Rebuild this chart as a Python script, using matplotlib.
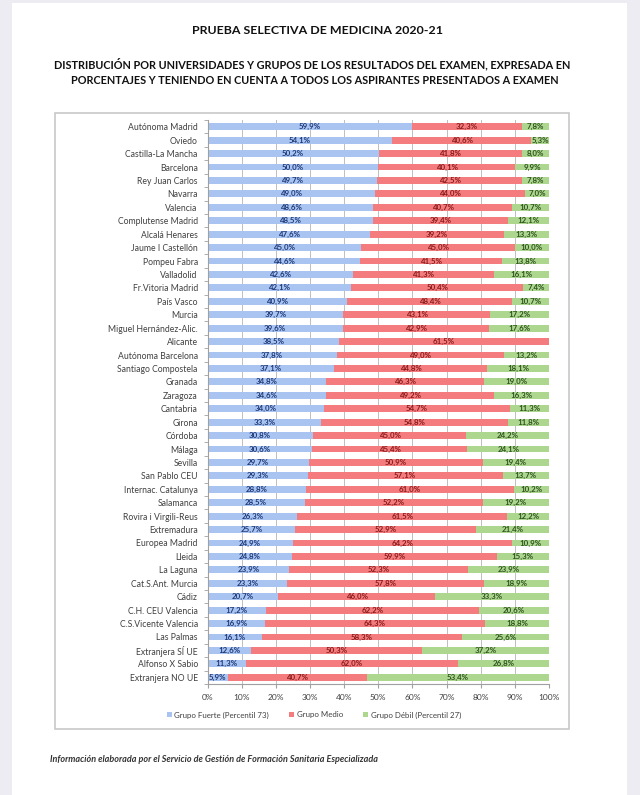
import matplotlib
matplotlib.use("Agg")
import matplotlib.pyplot as plt
from matplotlib.patches import Rectangle
import numpy as np

plt.rcParams['font.family'] = ['Lato', 'DejaVu Sans']

universidades = [
    'Autónoma Madrid', 'Oviedo', 'Castilla-La Mancha', 'Barcelona', 'Rey Juan Carlos',
    'Navarra', 'Valencia', 'Complutense Madrid', 'Alcalá Henares', 'Jaume I Castellón',
    'Pompeu Fabra', 'Valladolid', 'Fr.Vitoria Madrid', 'País Vasco', 'Murcia',
    'Miguel Hernández-Alic.', 'Alicante', 'Autónoma Barcelona', 'Santiago Compostela',
    'Granada', 'Zaragoza', 'Cantabria', 'Girona', 'Córdoba', 'Málaga', 'Sevilla',
    'San Pablo CEU', 'Internac. Catalunya', 'Salamanca', 'Rovira i Virgili-Reus',
    'Extremadura', 'Europea Madrid', 'Lleida', 'La Laguna', 'Cat.S.Ant. Murcia',
    'Cádiz', 'C.H. CEU Valencia', 'C.S.Vicente Valencia', 'Las Palmas',
    'Extranjera SÍ UE', 'Alfonso X Sabio', 'Extranjera NO UE']

fuerte = [59.9, 54.1, 50.2, 50.0, 49.7, 49.0, 48.6, 48.5, 47.6, 45.0,
          44.6, 42.6, 42.1, 40.9, 39.7, 39.6, 38.5, 37.8, 37.1, 34.8,
          34.6, 34.0, 33.3, 30.8, 30.6, 29.7, 29.3, 28.8, 28.5, 26.3,
          25.7, 24.9, 24.8, 23.9, 23.3, 20.7, 17.2, 16.9, 16.1, 12.6,
          11.3, 5.9]
medio = [32.3, 40.6, 41.8, 40.1, 42.5, 44.0, 40.7, 39.4, 39.2, 45.0,
         41.5, 41.3, 50.4, 48.4, 43.1, 42.9, 61.5, 49.0, 44.8, 46.3,
         49.2, 54.7, 54.8, 45.0, 45.4, 50.9, 57.1, 61.0, 52.2, 61.5,
         52.9, 64.2, 59.9, 52.3, 57.8, 46.0, 62.2, 64.3, 58.3, 50.3,
         62.0, 40.7]
debil = [7.8, 5.3, 8.0, 9.9, 7.8, 7.0, 10.7, 12.1, 13.3, 10.0,
         13.8, 16.1, 7.4, 10.7, 17.2, 17.6, 0.0, 13.2, 18.1, 19.0,
         16.3, 11.3, 11.8, 24.2, 24.1, 19.4, 13.7, 10.2, 19.2, 12.2,
         21.4, 10.9, 15.3, 23.9, 18.9, 33.3, 20.6, 18.8, 25.6, 37.2,
         26.8, 53.4]

series = ['Grupo Fuerte (Percentil 73)', 'Grupo Medio', 'Grupo Débil (Percentil 27)']
colores = ['#A9C4F0', '#F47C7E', '#ADD68F']
colores_txt = ['#1F3A7A', '#8A1C1C', '#2F5420']

W, H = 640, 795
fig = plt.figure(figsize=(W / 100, H / 100), dpi=100, facecolor='#ECECF2')

# page and chart frame
fig.patches.append(Rectangle((12 / W, 0), 615 / W, 1 - 3 / H, transform=fig.transFigure,
                             facecolor='white', edgecolor='none', zorder=0))
fig.patches.append(Rectangle((55 / W, 1 - 729 / H), 514 / W, 616 / H, transform=fig.transFigure,
                             facecolor='none', edgecolor='#C8C8C8', lw=1.2, zorder=1))

ax = fig.add_axes([207.5 / W, 1 - 684 / H, 341.5 / W, 564 / H])
ax.set_zorder(3)
ax.set_facecolor('none')

y = np.arange(len(universidades))
izq = np.zeros(len(universidades))
for vals, col, ctxt, nombre in zip([fuerte, medio, debil], colores, colores_txt, series):
    vals = np.array(vals)
    ax.barh(y, vals, left=izq, height=0.52, color=col, label=nombre, zorder=2)
    for yi, v, l in zip(y, vals, izq):
        if v > 0:
            ax.text(l + v / 2, yi, ('%.1f%%' % v).replace('.', ','), ha='center', va='center',
                    fontsize=5.7, fontweight='bold', color=ctxt, zorder=3)
    izq = izq + vals

ax.set_xlim(0, 100)
ax.set_ylim(len(universidades) - 0.5, -0.5)
ax.set_xticks(np.arange(0, 101, 10))
ax.set_xticklabels(['%d%%' % t for t in range(0, 101, 10)], fontsize=6, color='#404040')
ax.set_yticks(y)
ax.set_yticklabels(universidades, fontsize=6.2, color='#404040')
ax.set_yticks(np.arange(-0.5, len(universidades), 1), minor=True)
ax.tick_params(axis='y', which='major', length=0, pad=7)
ax.tick_params(axis='y', which='minor', length=3, color='#A0A0A0')
ax.tick_params(axis='x', length=3, color='#A0A0A0', pad=4)
ax.grid(axis='x', color='#BFBFBF', lw=0.7, zorder=0)
for s in ['top', 'right']:
    ax.spines[s].set_visible(False)
for s in ['left', 'bottom']:
    ax.spines[s].set_color('#A0A0A0')
    ax.spines[s].set_linewidth(0.8)

handles, labels = ax.get_legend_handles_labels()
leg = fig.legend(handles, labels, loc='center', bbox_to_anchor=(314 / W, 1 - 715 / H), ncol=3,
                 frameon=False, fontsize=5.7, handlelength=0.6, handleheight=0.6,
                 handletextpad=0.3, columnspacing=2.6, labelcolor='#404040')
leg.set_zorder(4)

fig.text(318 / W, 1 - 30 / H, 'PRUEBA SELECTIVA DE MEDICINA 2020-21', ha='center', va='center',
         fontsize=8.9, fontweight='bold', color='#111111')
fig.text(312 / W, 1 - 64 / H, 'DISTRIBUCIÓN POR UNIVERSIDADES Y GRUPOS DE LOS RESULTADOS DEL EXAMEN, EXPRESADA EN',
         ha='center', va='center', fontsize=7.85, fontweight='bold', color='#111111')
fig.text(315 / W, 1 - 81 / H, 'PORCENTAJES Y TENIENDO EN CUENTA A TODOS LOS ASPIRANTES PRESENTADOS A EXAMEN',
         ha='center', va='center', fontsize=7.85, fontweight='bold', color='#111111')
fig.text(50 / W, 1 - 760 / H,
         'Información elaborada por el Servicio de Gestión de Formación Sanitaria Especializada',
         ha='left', va='center', fontsize=6.5, fontstyle='italic', fontweight='bold', color='#333333')

fig.savefig('out.png', dpi=100, facecolor=fig.get_facecolor())
